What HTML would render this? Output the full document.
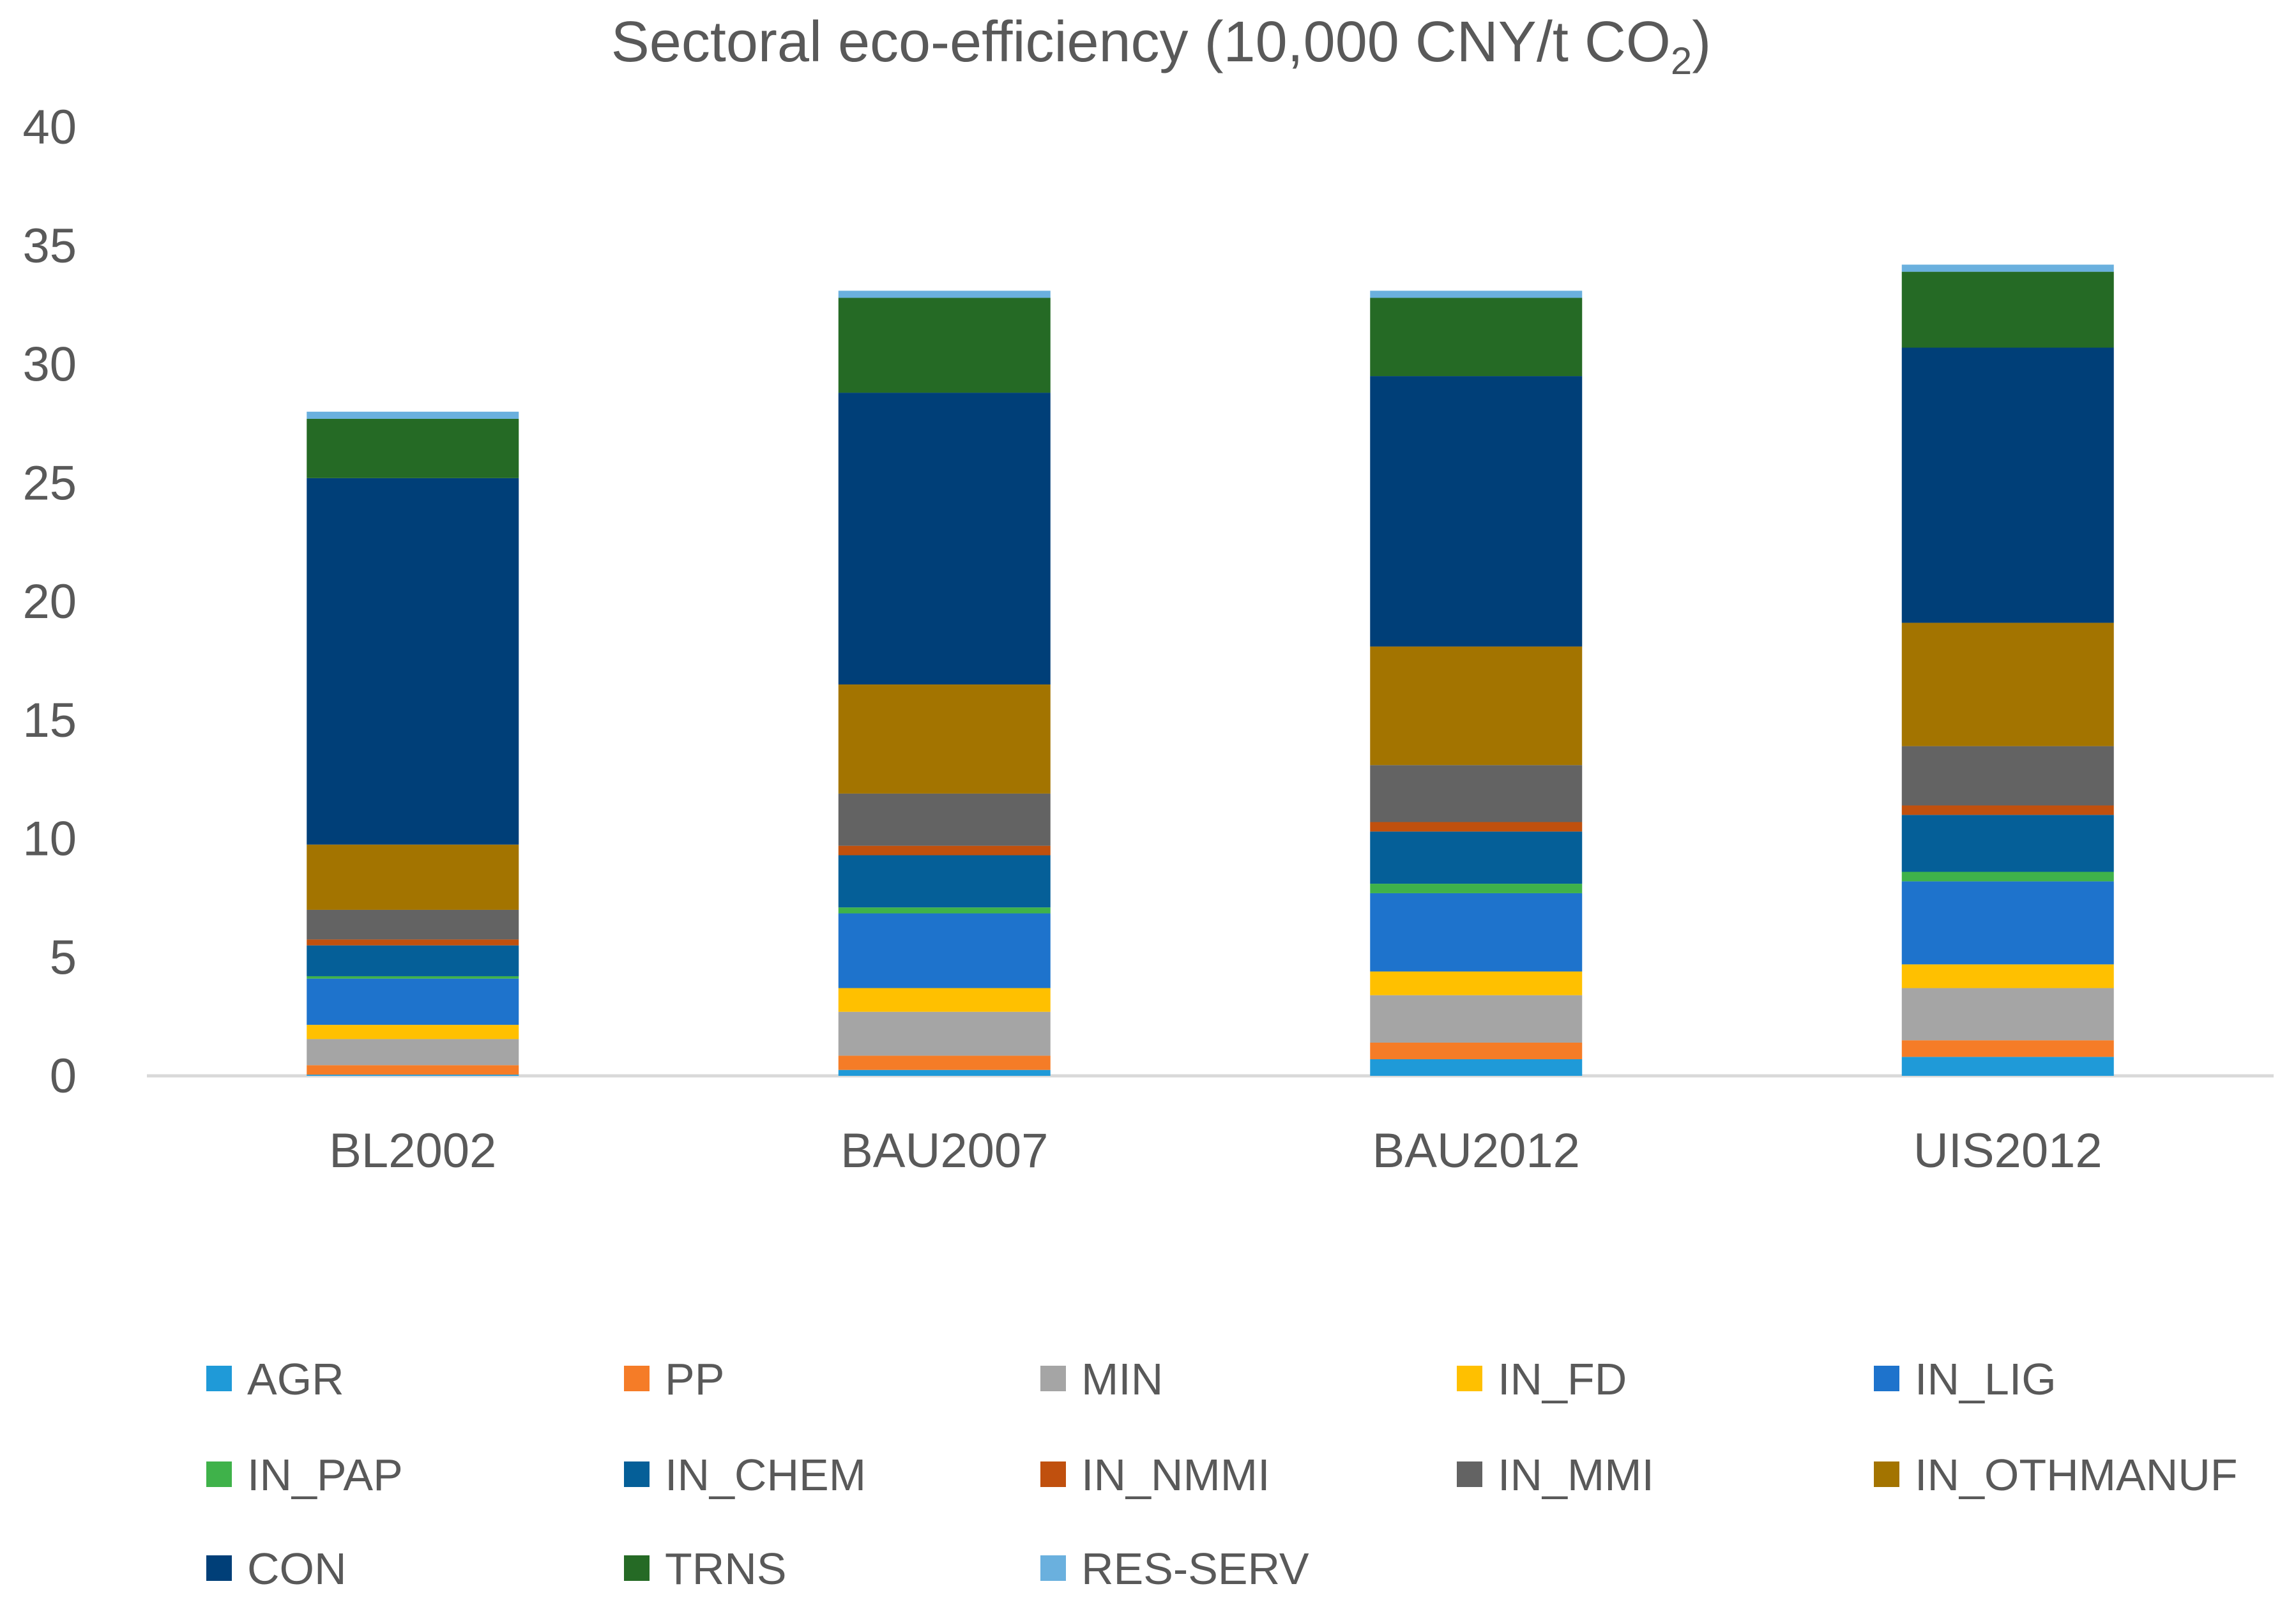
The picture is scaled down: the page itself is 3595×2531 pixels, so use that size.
<!DOCTYPE html>
<html><head><meta charset="utf-8"><style>
html,body{margin:0;padding:0;background:#fff;}
svg{display:block;font-family:"Liberation Sans","DejaVu Sans",sans-serif;}
</style></head><body>
<svg id="chart" width="3595" height="2531" viewBox="0 0 3595 2531" xmlns="http://www.w3.org/2000/svg">
<text x="1818" y="96" text-anchor="middle" font-size="90" fill="#595959">Sectoral eco-efficiency (10,000 CNY/t CO<tspan font-size="60" dy="20">2</tspan><tspan dy="-20">)</tspan></text>
<g id="yaxis"></g>
<g id="bars"></g>
<g id="xaxis"></g>
<g id="legend"></g>
</svg>
<script>
const categories = ["BL2002","BAU2007","BAU2012","UIS2012"];
const sectors = ["AGR","PP","MIN","IN_FD","IN_LIG","IN_PAP","IN_CHEM","IN_NMMI","IN_MMI","IN_OTHMANUF","CON","TRNS","RES-SERV"];
const colors = ["#1f9ad8","#f57c27","#a5a5a5","#ffc000","#1e73cc","#3fb24a","#055f98","#c0500e","#636363","#a37400","#003f78","#256a25","#6ab0de"];
const valsBL2002 = [0.05,0.4,1.1,0.6,1.95,0.1,1.3,0.25,1.25,2.75,15.45,2.5,0.3];
const valsBAU2007 = [0.25,0.6,1.85,1.0,3.15,0.25,2.2,0.4,2.2,4.6,12.3,4.0,0.3];
const valsBAU2012 = [0.7,0.7,2.0,1.0,3.3,0.4,2.2,0.4,2.4,5.0,11.4,3.3,0.3];
const valsUIS2012 = [0.8,0.7,2.2,1.0,3.5,0.4,2.4,0.4,2.5,5.2,11.6,3.2,0.3];
const series = [valsBL2002,valsBAU2007,valsBAU2012,valsUIS2012];
const yTicks = [0,5,10,15,20,25,30,35,40];

const NS="http://www.w3.org/2000/svg";
const y0=1685, y40=199, xL=230, xR=3560;
const yScale = v => y0 - (y0-y40)*v/40;
const xBand = i => xL + (xR-xL)*(i+0.5)/categories.length;
const barW = 332;
function mk(tag, attrs, parent){const e=document.createElementNS(NS,tag);for(const k in attrs)e.setAttribute(k,attrs[k]);parent.appendChild(e);return e;}

const ya=document.getElementById('yaxis');
yTicks.forEach(t=>{
  const tx=mk('text',{x:120,y:yScale(t)+26,'text-anchor':'end','font-size':76,fill:'#595959'},ya);
  tx.textContent=t;
  
  
});
const ax=mk('line',{x1:xL,x2:xR,y1:y0,y2:y0,stroke:'#d9d9d9','stroke-width':5},ya);



const bg=document.getElementById('bars');
series.forEach((vals,i)=>{
  let cum=0;
  vals.forEach((v,j)=>{
    const r=mk('rect',{x:xBand(i)-barW/2,y:yScale(cum+v),width:barW,height:yScale(cum)-yScale(cum+v),fill:colors[j]},bg);
    
    
    cum+=v;
  });
});

const xa=document.getElementById('xaxis');
categories.forEach((c,i)=>{
  const t=mk('text',{x:xBand(i),y:1828,'text-anchor':'middle','font-size':76,fill:'#595959'},xa);
  t.textContent=c;
  
  
});

const lg=document.getElementById('legend');
const colX=[323,977,1629,2281,2934], rowY=[2159,2309,2456];
sectors.forEach((s,j)=>{
  const cx=colX[j%5], cy=rowY[Math.floor(j/5)];
  const g=mk('g',{},lg);
  
  
  mk('rect',{x:cx,y:cy-20,width:40,height:40,fill:colors[j]},g);
  const t=mk('text',{x:cx+64,y:cy+25,'font-size':70,fill:'#595959'},g);
  t.textContent=s;
});
</script>
</body></html>
